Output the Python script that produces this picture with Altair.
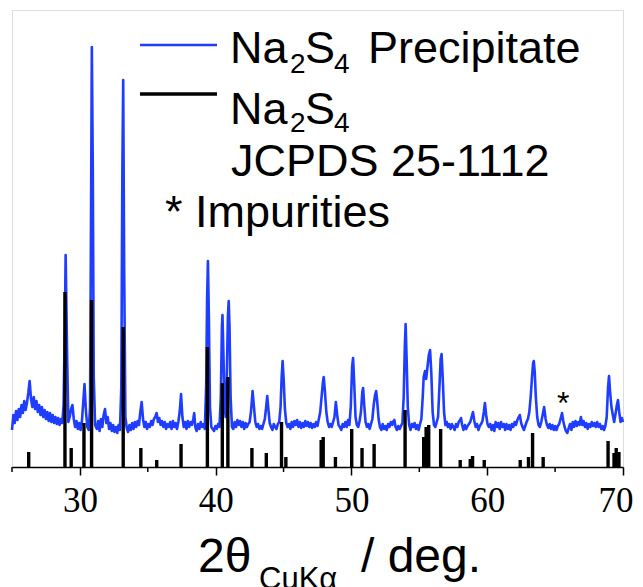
import altair as alt
import pandas as pd

# ---- Measured XRD pattern (Na2S4 precipitate), intensity in arbitrary units ----
two_theta = [
    25.0, 25.1, 25.2, 25.3, 25.4, 25.5, 25.6, 25.7, 25.8, 25.9, 26.0, 26.1, 26.2, 26.3, 26.4, 26.5,
    26.6, 26.7, 26.8, 26.9, 27.0, 27.1, 27.2, 27.3, 27.4, 27.5, 27.6, 27.7, 27.8, 27.9, 28.0, 28.1,
    28.2, 28.3, 28.4, 28.5, 28.6, 28.7, 28.8, 28.9, 28.95, 29.05, 29.15, 29.25, 29.35, 29.45, 29.55,
    29.65, 29.75, 29.85, 29.95, 30.05, 30.15, 30.25, 30.34, 30.45, 30.55, 30.65, 30.75, 30.82, 30.88,
    30.95, 31.02, 31.12, 31.25, 31.35, 31.45, 31.55, 31.65, 31.75, 31.85, 31.95, 32.05, 32.15, 32.25,
    32.35, 32.45, 32.55, 32.65, 32.75, 32.85, 32.95, 33.05, 33.13, 33.19, 33.26, 33.35, 33.45, 33.55,
    33.65, 33.75, 33.85, 33.95, 34.05, 34.15, 34.25, 34.35, 34.45, 34.55, 34.65, 34.75, 34.85, 34.95,
    35.05, 35.15, 35.25, 35.35, 35.45, 35.55, 35.65, 35.75, 35.85, 35.95, 36.05, 36.15, 36.25, 36.35,
    36.45, 36.55, 36.65, 36.75, 36.85, 36.95, 37.05, 37.15, 37.25, 37.35, 37.45, 37.55, 37.65, 37.75,
    37.85, 37.95, 38.05, 38.15, 38.25, 38.35, 38.42, 38.5, 38.6, 38.7, 38.8, 38.9, 39.0, 39.1, 39.2,
    39.3, 39.37, 39.43, 39.5, 39.58, 39.68, 39.78, 39.88, 39.98, 40.08, 40.18, 40.28, 40.38, 40.46,
    40.5, 40.56, 40.66, 40.74, 40.82, 40.9, 40.96, 41.02, 41.1, 41.2, 41.3, 41.4, 41.5, 41.6, 41.7,
    41.8, 41.9, 42.0, 42.1, 42.2, 42.3, 42.4, 42.5, 42.6, 42.72, 42.82, 42.92, 43.02, 43.12, 43.22,
    43.32, 43.42, 43.52, 43.62, 43.72, 43.8, 43.88, 43.98, 44.08, 44.18, 44.28, 44.38, 44.48, 44.58,
    44.68, 44.78, 44.86, 44.93, 45.0, 45.1, 45.2, 45.3, 45.4, 45.5, 45.6, 45.7, 45.8, 45.9, 46.0,
    46.1, 46.2, 46.3, 46.4, 46.5, 46.6, 46.7, 46.8, 46.9, 47.0, 47.1, 47.2, 47.3, 47.4, 47.5, 47.6,
    47.7, 47.8, 47.9, 47.96, 48.05, 48.15, 48.25, 48.35, 48.45, 48.55, 48.65, 48.75, 48.85, 48.95,
    49.05, 49.15, 49.25, 49.35, 49.45, 49.55, 49.65, 49.75, 49.85, 49.95, 50.05, 50.12, 50.2, 50.3,
    50.4, 50.5, 50.6, 50.7, 50.8, 50.86, 50.94, 51.04, 51.14, 51.24, 51.34, 51.44, 51.54, 51.64,
    51.74, 51.82, 51.9, 52.0, 52.1, 52.2, 52.3, 52.4, 52.5, 52.6, 52.7, 52.8, 52.9, 53.0, 53.1, 53.16,
    53.25, 53.35, 53.45, 53.55, 53.65, 53.75, 53.85, 53.93, 53.99, 54.06, 54.15, 54.25, 54.35, 54.45,
    54.55, 54.65, 54.75, 54.85, 54.95, 55.05, 55.15, 55.25, 55.32, 55.42, 55.5, 55.6, 55.7, 55.79,
    55.88, 55.98, 56.08, 56.18, 56.28, 56.38, 56.48, 56.57, 56.64, 56.72, 56.82, 56.92, 57.02, 57.1,
    57.2, 57.3, 57.4, 57.5, 57.6, 57.7, 57.8, 57.9, 58.0, 58.07, 58.15, 58.25, 58.35, 58.45, 58.55,
    58.65, 58.75, 58.85, 58.95, 59.05, 59.15, 59.25, 59.35, 59.45, 59.55, 59.65, 59.75, 59.83, 59.92,
    60.02, 60.12, 60.22, 60.32, 60.42, 60.52, 60.62, 60.72, 60.82, 60.92, 61.02, 61.12, 61.22, 61.32,
    61.42, 61.52, 61.62, 61.72, 61.82, 61.92, 62.02, 62.12, 62.22, 62.32, 62.4, 62.5, 62.6, 62.7,
    62.8, 62.9, 63.0, 63.1, 63.2, 63.3, 63.38, 63.43, 63.5, 63.58, 63.68, 63.78, 63.88, 63.98, 64.08,
    64.19, 64.3, 64.4, 64.5, 64.6, 64.7, 64.8, 64.9, 65.0, 65.1, 65.2, 65.3, 65.4, 65.51, 65.6, 65.7,
    65.8, 65.9, 66.0, 66.1, 66.2, 66.3, 66.4, 66.5, 66.6, 66.7, 66.8, 66.9, 67.0, 67.1, 67.2, 67.3,
    67.4, 67.5, 67.6, 67.7, 67.8, 67.9, 68.0, 68.1, 68.2, 68.3, 68.4, 68.5, 68.6, 68.7, 68.8, 68.9,
    68.97, 69.05, 69.15, 69.25, 69.35, 69.46, 69.55, 69.63, 69.72, 69.82, 69.92, 70.0,
]
intensity = [
    37, 52, 44, 56, 47, 58, 50, 62, 54, 66, 57, 64, 74, 86, 68, 60,
    70, 58, 66, 55, 62, 52, 60, 50, 57, 48, 55, 46, 54, 45, 52, 44,
    50, 43, 49, 42, 48, 44, 62, 150, 212, 120, 45, 50, 58, 62, 48,
    40, 46, 38, 44, 37, 46, 65, 83, 55, 40, 37, 60, 250, 420,
    300, 90, 42, 38, 46, 36, 48, 40, 52, 58, 44, 50, 38, 44,
    36, 42, 35, 40, 34, 42, 37, 80, 300, 387, 200, 50, 39, 35,
    42, 37, 44, 38, 45, 40, 46, 42, 55, 65, 48, 40, 45, 38,
    43, 40, 46, 42, 48, 50, 54, 45, 49, 42, 46, 40, 45, 38,
    43, 40, 45, 38, 46, 40, 44, 38, 45, 55, 73, 50, 40, 45,
    38, 46, 40, 45, 42, 48, 54, 40, 36, 43, 38, 45, 40, 43, 38,
    80, 170, 206, 150, 60, 40, 38, 36, 41, 38, 43, 40, 70, 140,
    152, 120, 60, 50, 90, 150, 166, 140, 70, 40, 38, 45, 40, 47, 42,
    46, 40, 45, 38, 44, 40, 43, 45, 55, 76, 60, 45, 40, 43, 38,
    41, 38, 43, 48, 60, 71, 58, 44, 40, 37, 43, 40, 38, 43,
    45, 60, 90, 106, 90, 58, 44, 40, 43, 38, 45, 40, 46, 42, 47,
    40, 45, 39, 44, 40, 46, 41, 45, 40, 44, 39, 43, 40, 45, 41, 48,
    55, 70, 85, 90, 75, 55, 45, 40, 43, 40, 45, 50, 65, 52,
    42, 40, 37, 43, 40, 45, 40, 47, 42, 60, 100, 109, 85, 50,
    42, 40, 46, 55, 75, 79, 62, 45, 40, 43, 38, 43, 48, 62,
    72, 76, 65, 48, 40, 37, 43, 38, 41, 37, 43, 40, 45, 42, 46, 47,
    40, 37, 41, 38, 41, 44, 70, 120, 143, 110, 60, 42, 37, 43,
    40, 44, 38, 42, 37, 43, 48, 70, 90, 96, 88, 100, 112, 117,
    95, 55, 42, 40, 45, 50, 80, 108, 113, 90, 55, 42, 45, 40,
    43, 38, 43, 40, 37, 43, 40, 45, 47, 49, 42, 37, 42, 38, 41,
    43, 45, 50, 55, 46, 40, 43, 37, 41, 43, 46, 55, 64, 52,
    43, 40, 43, 37, 42, 36, 45, 40, 44, 38, 45, 40, 43, 37,
    43, 38, 42, 37, 43, 40, 45, 42, 47, 50, 52, 44, 40, 37,
    41, 45, 48, 55, 70, 90, 104, 106, 95, 70, 50, 42, 40, 45, 52,
    60, 48, 42, 39, 43, 38, 42, 37, 41, 37, 41, 43, 48, 54, 46, 40,
    36, 34, 39, 43, 37, 45, 40, 46, 41, 45, 42, 50, 42, 46, 40, 44,
    38, 43, 40, 45, 41, 44, 40, 45, 40, 43, 38, 41, 37, 41, 50, 80,
    91, 75, 60, 52, 45, 54, 62, 67, 55, 45, 49, 45,
]

# ---- Reference pattern Na2S4, JCPDS 25-1112 (stick positions and heights) ----
ref_theta = [26.23, 28.9, 29.36, 30.3, 30.86, 33.19, 34.49, 35.66, 37.45, 39.39, 40.49, 40.9,
             42.67, 43.73, 44.85, 45.17, 47.77, 47.92, 48.82, 50.02, 50.78, 51.67, 53.95,
             55.32, 55.5, 55.69, 56.57, 58.01, 58.75, 58.92, 59.78, 62.43, 63.04, 63.34,
             64.12, 68.9, 69.34, 69.5, 69.7]
ref_height = [15, 175, 19, 44, 167, 140, 19, 7, 23, 120, 84, 90,
              19, 14, 45, 10, 27, 30, 10, 38, 19, 23, 57,
              30, 40, 42, 38, 7, 8, 11, 7, 7, 10, 34,
              10, 26, 14, 19, 15]

minor_ticks = [25, 35, 45, 55, 65]
major_ticks = [30, 40, 50, 60, 70]

BLUE = "#1f3dff"
W, H = 611, 457

pattern = pd.DataFrame({"t": two_theta, "i": intensity})
refs = pd.DataFrame({"t": ref_theta, "h": ref_height})
minors = pd.DataFrame({"t": minor_ticks})

xscale = alt.Scale(domain=[25, 70], nice=False, zero=False)
yscale = alt.Scale(domain=[0, H], nice=False, zero=True)

xaxis = alt.Axis(values=major_ticks, title=None, grid=False, tickSize=8, tickWidth=1.5,
                 tickColor="black", domainColor="black", domainWidth=1.5,
                 labelFont="Liberation Serif", labelFontSize=35, labelColor="black",
                 labelPadding=8, labelOverlap=False, labelFlush=1, labelFlushOffset=10,
                 format="d")

line = alt.Chart(pattern).mark_line(color=BLUE, strokeWidth=2.6, strokeJoin="round").encode(
    x=alt.X("t:Q", scale=xscale, axis=xaxis),
    y=alt.Y("i:Q", scale=yscale, axis=None),
)

sticks = alt.Chart(refs).mark_rule(color="black", strokeWidth=3.4).encode(
    x=alt.X("t:Q", scale=xscale),
    y=alt.Y("h:Q", scale=yscale),
    y2=alt.datum(0),
)

minor = alt.Chart(minors).mark_rule(color="black", strokeWidth=1.5, clip=False).encode(
    x=alt.X("t:Q", scale=xscale),
    y=alt.datum(0),
    y2=alt.datum(-5),
)

layers = [line, sticks, minor]

# legend swatches (pixel positions inside the plot area)
layers.append(alt.Chart().mark_rule(color=BLUE, strokeWidth=2.5).encode(
    x=alt.value(128), x2=alt.value(205), y=alt.value(35)))
layers.append(alt.Chart().mark_rule(color="black", strokeWidth=3.5).encode(
    x=alt.value(128), x2=alt.value(205), y=alt.value(84)))

OX, OY = 12, 10  # plot-area origin in page pixels
texts = [
    ("Na", 230, 63, 45), ("2", 290, 73, 28), ("S", 305, 63, 45), ("4", 334, 73, 28),
    ("Precipitate", 368, 63, 45),
    ("Na", 230, 124, 45), ("2", 290, 132, 28), ("S", 305, 124, 45), ("4", 334, 132, 28),
    ("JCPDS 25-1112", 231, 176, 45),
    ("* Impurities", 165, 227, 45),
    ("*", 557, 414, 32),
    ("2θ", 198, 572, 48), ("CuKα", 259, 589, 31), ("/ deg.", 361, 572, 48),
]
for s, px, py, fs in texts:
    layers.append(alt.Chart().mark_text(align="left", baseline="alphabetic", font="Liberation Sans",
                                         fontSize=fs, color="black").encode(
        x=alt.value(px - OX), y=alt.value(py - OY), text=alt.value(s)))

chart = alt.layer(*layers).properties(
    width=W, height=H,
    autosize=alt.AutoSizeParams(type="none"),
    padding={"left": OX - 8, "top": OY - 8, "right": 12, "bottom": 122},
).configure_view(stroke="black", strokeWidth=1.5).configure(background="white")

chart.save("out.html", embed_options={"renderer": "svg", "actions": False})
